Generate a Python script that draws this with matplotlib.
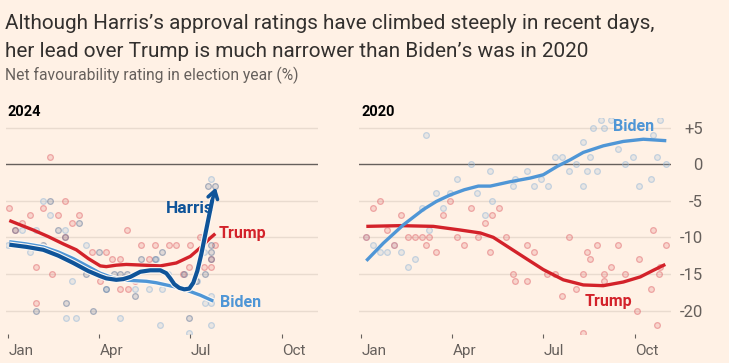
import matplotlib
matplotlib.use("Agg")
import matplotlib.pyplot as plt
import matplotlib.patheffects as pe
from matplotlib import font_manager

# ---------------- data (day of year, net favourability %) ----------------
month_ticks = [0, 91, 182, 274]
month_labels = ["Jan", "Apr", "Jul", "Oct"]
y_ticks = [5, 0, -5, -10, -15, -20]
y_tick_labels = ["+5", "0", "-5", "-10", "-15", "-20"]

# 2024 polls
trump24_days = [42, 1, 35, 57, 22, 50, 71, 14, 64, 7, 57, 119, 133, 147, 161, 168, 182, 192,
                84, 98, 104, 112, 141, 28, 44, 92, 112, 120, 28, 181, 196, 203, 127, 175, 203, 207]
trump24_vals = [1, -6, -6, -5, -7, -7, -7, -8, -8, -9, -10, -9, -11, -11, -11, -11, -11, -10,
                -12, -12, -13, -13, -13, -14, -15, -16, -17, -17, -19, -14, -14, -14, -16, -15, -13, -11]
biden24_days = [35, 42, 14, 28, 57, 0, 22, 78, 64, 98, 58, 68, 112, 152, 127, 141, 154, 189,
                197, 203, 203, 203, 181, 203, 148, 160, 196]
biden24_vals = [-5, -7, -9, -9, -9, -11, -12, -11, -16, -17, -21, -21, -21, -22, -17, -17, -17, -16,
                -19, -19, -18, -22, -23, -2, -13, -15, -12]
harris24_days = [42, 50, 71, 7, 35, 78, 91, 28, 58, 85, 57, 106, 112, 119, 133, 147, 154, 176,
                 181, 197, 203, 203, 203, 207, 98, 127, 188, 200]
harris24_vals = [-5, -9, -8, -9, -11, -15, -12, -20, -19, -20, -10, -15, -15, -15, -13, -13, -12, -15,
                 -21, -15, -13, -12, -11, -3, -17, -18, -16, -3]

# 2024 trend lines
trump24_line_days = [1, 12, 25, 40, 55, 68, 80, 92, 98, 108, 118, 135, 152, 168, 182, 193, 201, 207]
trump24_line_vals = [-7.7, -8.3, -9.0, -9.9, -10.9, -11.7, -12.9, -13.9, -14.0, -13.8, -13.7, -13.8,
                     -13.9, -13.5, -12.6, -11.3, -10.2, -9.5]
biden24_line_days = [1, 18, 35, 50, 65, 80, 92, 102, 112, 125, 138, 148, 158, 168, 178, 192, 205]
biden24_line_vals = [-10.6, -10.9, -11.3, -12.0, -12.9, -14.0, -14.9, -15.4, -15.8, -15.9, -16.0,
                     -16.2, -16.5, -16.8, -17.2, -17.9, -18.7]
harris24_line_days = [1, 18, 35, 50, 65, 80, 92, 98, 108, 115, 122, 132, 142, 152, 158, 162, 166,
                      171, 176, 181, 185, 189, 193, 197, 201, 204]
harris24_line_vals = [-11.0, -11.3, -11.7, -12.5, -13.5, -14.6, -15.3, -15.6, -15.8, -15.7, -15.4,
                      -14.7, -14.5, -14.5, -14.9, -15.6, -16.4, -16.9, -17.1, -17.0, -16.2, -14.6,
                      -12.3, -9.6, -6.9, -4.9]
harris_arrow_tip = (207.5, -3.2)

# 2020 polls
biden20_days = [65, 110, 96, 75, 89, 61, 82, 68, 5, 12, 19, 26, 40, 47, 54, 33, 116, 131, 124, 129,
                152, 154, 166, 173, 180, 187, 194, 201, 208, 215, 222, 222, 226, 229, 232, 236, 240,
                250, 243, 257, 264, 272, 278, 290, 292, 296, 299, 305]
biden20_vals = [4, 0, -2, -4, -4, -6, -6, -9, -10, -11, -12, -12, -12, -14, -13, -11, -4, -5, -7, -1,
                -3, -2, -1, -3, -2, -3, 1, 1, -1, 0, 3, -3, -1, 1, 5, -1, 6,
                6, 5, 2, 0, 1, -3, -2, 4, 1, 6, 0]
trump20_days = [5, 12, 19, 26, 33, 40, 47, 54, 61, 68, 65, 75, 82, 89, 96, 103, 110, 117, 124, 131,
                129, 138, 145, 152, 154, 166, 166, 173, 186, 194, 201, 208, 215, 222, 222, 226, 229,
                236, 243, 243, 250, 257, 264, 276, 278, 290, 292, 296, 298, 299, 305]
trump20_vals = [-10, -6, -5, -9, -11, -7, -10, -10, -10, -10, -11, -12, -7, -5, -10, -11, -6, -10, -8, -7,
                -12, -6, -10, -15, -16, -16, -11, -12, -15, -15, -18, -10, -17, -15, -23, -12, -13,
                -11, -16, -15, -14, -11, -15, -20, -13, -17, -9, -22, -15, -14, -11]

# 2020 trend lines
biden20_line_days = [5, 22, 42, 62, 75, 89, 103, 117, 129, 149, 169, 182, 196, 209, 222, 242, 262, 282, 305]
biden20_line_vals = [-13.2, -10.8, -8.3, -6.2, -5.1, -4.2, -3.5, -3.0, -3.0, -2.4, -1.9, -1.45, -0.3,
                     0.6, 1.6, 2.5, 3.1, 3.4, 3.2]
trump20_line_days = [5, 39, 72, 99, 119, 132, 149, 166, 182, 202, 222, 242, 262, 279, 292, 304]
trump20_line_vals = [-8.5, -8.4, -8.5, -9.0, -9.4, -10.0, -11.5, -13.0, -14.4, -15.8, -16.5, -16.6,
                     -16.1, -15.4, -14.5, -13.7]

# ---------------- style ----------------
names = {f.name for f in font_manager.fontManager.ttflist}
FONT = "Liberation Sans Narrow" if "Liberation Sans Narrow" in names else "Roboto"
plt.rcParams["font.family"] = [FONT, "DejaVu Sans"]

BG = "#fff1e5"
TXT = "#33302e"
GREY = "#66605c"
GRID = "#e9dbcf"
RED = "#d3222a"
LBLUE = "#4f96d6"
DBLUE = "#0f5499"
RED_DOT = "#e0666c"
LB_DOT = "#93b6d8"
DB_DOT = "#61779a"

W, H = 729, 363
fig = plt.figure(figsize=(W / 100, H / 100), dpi=100, facecolor=BG)


def px_axes(x0, y_top, w, h):
    return fig.add_axes([x0 / W, 1 - (y_top + h) / H, w / W, h / H])


ax1 = px_axes(6, 118, 312, 216)
ax2 = px_axes(359, 118, 312, 216)

for ax in (ax1, ax2):
    ax.set_facecolor(BG)
    for s in ax.spines.values():
        s.set_visible(False)
    ax.set_xlim(-2.3, 309.7)
    ax.set_ylim(-23.2, 6.3)
    for g in [5, -5, -10, -15, -20]:
        ax.axhline(g, color=GRID, lw=1.0, zorder=0)
    ax.axhline(0, color=GREY, lw=1.0, zorder=1)
    ax.set_xticks(month_ticks)
    ax.set_xticklabels(month_labels)
    ax.tick_params(axis="x", length=3, width=0.8, color=GREY, labelcolor=GREY,
                   labelsize=11, pad=4)
    for lbl in ax.get_xticklabels():
        lbl.set_horizontalalignment("left")

ax1.set_yticks([])
ax2.yaxis.tick_right()
ax2.set_yticks(y_ticks)
ax2.set_yticklabels(y_tick_labels)
ax2.tick_params(axis="y", length=0, labelcolor=GREY, labelsize=12, pad=23)
for lbl in ax2.get_yticklabels():
    lbl.set_horizontalalignment("right")


def dots(ax, xs, ys, col):
    ax.scatter(xs, ys, s=17, facecolor=matplotlib.colors.to_rgba(col, 0.2),
               edgecolor=matplotlib.colors.to_rgba(col, 0.5), linewidth=0.9, zorder=2)


dots(ax1, biden24_days, biden24_vals, LB_DOT)
dots(ax1, trump24_days, trump24_vals, RED_DOT)
dots(ax1, harris24_days, harris24_vals, DB_DOT)
dots(ax2, biden20_days, biden20_vals, LB_DOT)
dots(ax2, trump20_days, trump20_vals, RED_DOT)

ax1.plot(trump24_line_days, trump24_line_vals, color=RED, lw=2.4, solid_capstyle="butt", zorder=3)
ax1.plot(biden24_line_days, biden24_line_vals, color=LBLUE, lw=2.4, solid_capstyle="butt",
         zorder=4, path_effects=[pe.Stroke(linewidth=4.2, foreground="#fdf8f3"), pe.Normal()])
ax1.plot(harris24_line_days, harris24_line_vals, color=DBLUE, lw=3.0, solid_capstyle="butt",
         zorder=5, path_effects=[pe.Stroke(linewidth=4.6, foreground="#fdf8f3"), pe.Normal()])
ax1.annotate("", xy=harris_arrow_tip, xytext=(harris24_line_days[-1], harris24_line_vals[-1]),
             arrowprops=dict(arrowstyle="->,head_length=0.55,head_width=0.35", color=DBLUE,
                             lw=2.6, shrinkA=0, shrinkB=0), zorder=6)

ax2.plot(trump20_line_days, trump20_line_vals, color=RED, lw=2.4, solid_capstyle="butt", zorder=3)
ax2.plot(biden20_line_days, biden20_line_vals, color=LBLUE, lw=2.4, solid_capstyle="butt", zorder=4)

# line labels (data coords)
ax1.text(158, -6.1, "Harris", color=DBLUE, fontsize=12.5, fontweight="bold",
         ha="left", va="center", zorder=7)
ax1.text(210, -9.5, "Trump", color=RED, fontsize=11.5, fontweight="bold",
         ha="left", va="center", zorder=7)
ax1.text(212, -18.9, "Biden", color=LBLUE, fontsize=11.5, fontweight="bold",
         ha="left", va="center", zorder=7)
ax2.text(252, 5.2, "Biden", color=LBLUE, fontsize=11.5, fontweight="bold",
         ha="left", va="center", zorder=7)
ax2.text(223, -18.7, "Trump", color=RED, fontsize=11.5, fontweight="bold",
         ha="left", va="center", zorder=7)

# panel titles
fig.text(8 / W, 1 - 112 / H, "2024", fontsize=10.5, fontweight="bold", color="#000000",
         ha="left", va="center")
fig.text(361 / W, 1 - 112 / H, "2020", fontsize=10.5, fontweight="bold", color="#000000",
         ha="left", va="center")

# titles, fitted to reference widths
t1 = fig.text(5 / W, 1 - 29 / H, "Although Harris\u2019s approval ratings have climbed steeply in recent days,",
              fontsize=16, color=TXT, ha="left", va="baseline")
t2 = fig.text(5 / W, 1 - 57 / H, "her lead over Trump is much narrower than Biden\u2019s was in 2020",
              fontsize=16, color=TXT, ha="left", va="baseline")
t3 = fig.text(5 / W, 1 - 80 / H, "Net favourability rating in election year (%)",
              fontsize=12, color=GREY, ha="left", va="baseline")

r = fig.canvas.get_renderer()
for t, target in ((t1, 650), (t3, 292)):
    w = t.get_window_extent(r).width
    t.set_fontsize(t.get_fontsize() * target / w)
t2.set_fontsize(t1.get_fontsize())

fig.savefig("out.png", dpi=100, facecolor=BG)
